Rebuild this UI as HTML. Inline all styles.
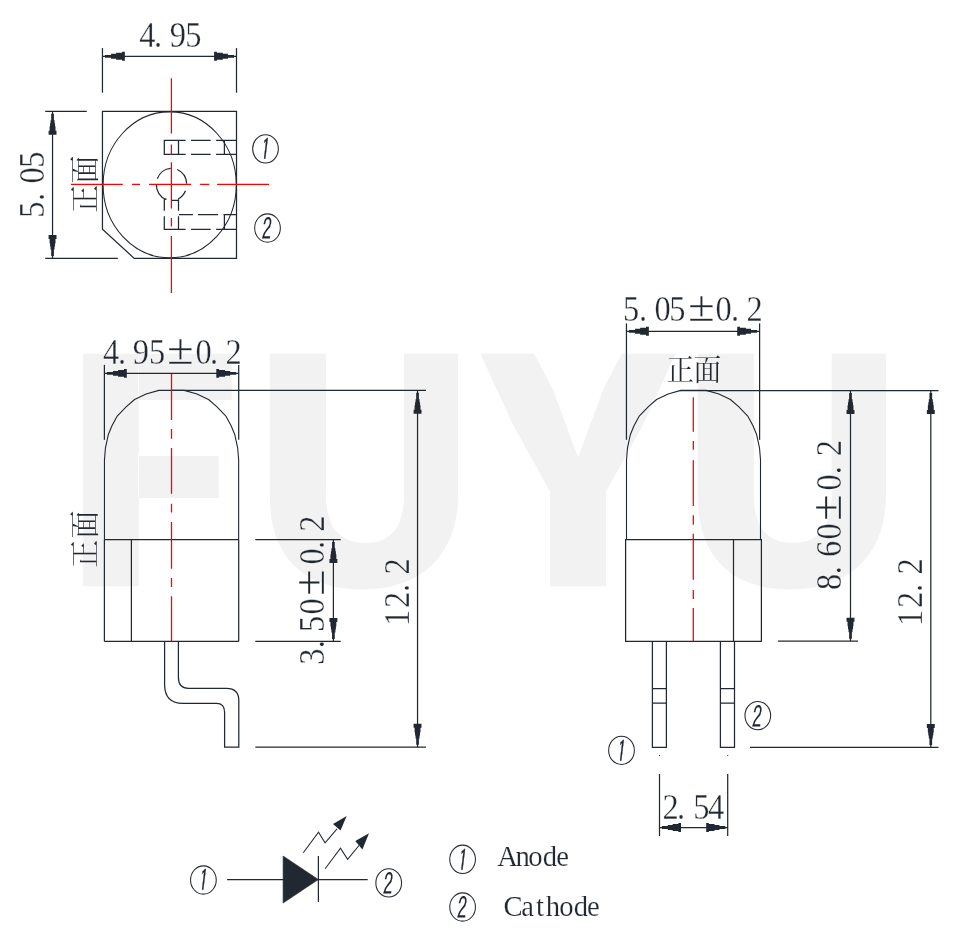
<!DOCTYPE html>
<html lang="zh">
<head>
<meta charset="utf-8">
<title>LED package outline drawing</title>
<style>
html,body{margin:0;padding:0;background:#fff;}
body{width:969px;height:944px;overflow:hidden;font-family:"Liberation Serif","Noto Serif CJK SC",serif;}
svg{display:block;will-change:transform;}
text{white-space:pre;}
.t{stroke:#fff;stroke-width:0.3px;}
.l{stroke:#fff;stroke-width:0.2px;}
.c{stroke:#fff;stroke-width:0.12px;}
</style>
</head>
<body>
<svg width="969" height="944" viewBox="0 0 969 944">
<rect width="969" height="944" fill="#ffffff"/>
<clipPath id="wmclip"><path clip-rule="evenodd" d="M0 0H138.8V944H0ZM138 350H231.6V400H138ZM138 451.5H218.6V497.7H138ZM262 0H969V944H262ZM326.3 340L326.3 500L327.5 511.3L331.7 525.1L336 531L341.3 536.1L346.5 539.3L352.3 541.6L358.5 542.6L365.15 542.8L371.8 542.6L378 541.6L383.8 539.3L389 536.1L394.3 531L398.6 525.1L402.8 511.3L404 500L404 340ZM754 340L754 500L755.2 511.3L759.4 525.1L763.7 531L769 536.1L774.2 539.3L780 541.6L786.2 542.6L792.85 542.8L799.5 542.6L805.7 541.6L811.5 539.3L816.7 536.1L822 531L826.3 525.1L830.5 511.3L831.7 500L831.7 340ZM539.8 340L616.3 340L616.3 353.8L578.05 457.7L539.8 353.8ZM464 340H480.5V353.8L549.7 505V600H464ZM692 340H675.6V353.8L606.4 505V600H692Z"/></clipPath>
<g clip-path="url(#wmclip)"><text transform="translate(0 578.49) scale(1 1.0906)" x="71.07 259.69 481.53 687.64" y="0" font-family="Liberation Sans, sans-serif" font-weight="bold" font-size="289" fill="#f2f2f2" stroke="#f2f2f2" stroke-width="14.4">FUYU</text></g>
<path d="M102.45 111.35H236.5V258.35H134.2L102.45 229.3Z" fill="none" stroke="#222831" stroke-width="1.25" />
<ellipse cx="169.7" cy="184.85" rx="66.6" ry="73" fill="none" stroke="#222831" stroke-width="1.05"/>
<line x1="102.45" y1="48.1" x2="102.45" y2="92.7" stroke="#222831" stroke-width="1.25"/>
<line x1="236.5" y1="48.1" x2="236.5" y2="92.7" stroke="#222831" stroke-width="1.25"/>
<line x1="102.45" y1="56.3" x2="236.5" y2="56.3" stroke="#222831" stroke-width="1.25"/>
<polygon points="104.95,54.9 111.05,54.9 111.05,53.85 116.15,53.85 116.15,52.85 122.05,52.85 122.05,51.85 124.85,51.85 124.85,60.75 122.05,60.75 122.05,59.75 116.15,59.75 116.15,58.75 111.05,58.75 111.05,57.7 104.95,57.7" fill="#222831"/>
<polygon points="234,54.9 227.9,54.9 227.9,53.85 222.8,53.85 222.8,52.85 216.9,52.85 216.9,51.85 214.1,51.85 214.1,60.75 216.9,60.75 216.9,59.75 222.8,59.75 222.8,58.75 227.9,58.75 227.9,57.7 234,57.7" fill="#222831"/>
<text transform="translate(0 47) scale(0.913 1)" x="152.5 168.73 186.02 202.84" y="0" font-family="Liberation Serif, serif" font-size="35.5" fill="#222831" class="t">4.95</text>
<line x1="45.2" y1="111.35" x2="86.8" y2="111.35" stroke="#222831" stroke-width="1.25"/>
<line x1="45.2" y1="258.35" x2="117.8" y2="258.35" stroke="#222831" stroke-width="1.25"/>
<line x1="52.55" y1="111.35" x2="52.55" y2="258.35" stroke="#222831" stroke-width="1.25"/>
<polygon points="51.2,113.75 51.2,120.15 50.55,120.15 50.55,123.15 50.05,123.15 50.05,126.15 49.6,126.15 49.6,130.75 48.6,130.75 48.6,134.75 56.5,134.75 56.5,130.75 55.5,130.75 55.5,126.15 55.05,126.15 55.05,123.15 54.55,123.15 54.55,120.15 53.9,120.15 53.9,113.75" fill="#222831"/>
<polygon points="51.2,255.95 51.2,249.55 50.55,249.55 50.55,246.55 50.05,246.55 50.05,243.55 49.6,243.55 49.6,238.95 48.6,238.95 48.6,234.95 56.5,234.95 56.5,238.95 55.5,238.95 55.5,243.55 55.05,243.55 55.05,246.55 54.55,246.55 54.55,249.55 53.9,249.55 53.9,255.95" fill="#222831"/>
<text transform="translate(44.1 0) rotate(-90) scale(0.913 1)" x="-238.57 -220.21 -201.1 -183.69" y="0" font-family="Liberation Serif, serif" font-size="35.5" fill="#222831" class="t">5.05</text>
<path d="M185.6 140.4H164.3V154.4H185.6M178.5 140.4V154.4M191 140.4H210.7M191 154.4H210.7M216.1 140.4H236.5M216.1 154.4H236.5M224.4 140.4V154.4" fill="none" stroke="#222831" stroke-width="1.25" />
<path d="M164.3 199.2V210.8M164.3 216.2V229.4H185.6M178.5 199.2V210.8M178.5 216.2V229.4M179 214.5H192.9M197.9 214.5H218M223.5 214.5H236.5M191 229.4H210.7M216.1 229.4H236.5M224.4 214.5V229.4" fill="none" stroke="#222831" stroke-width="1.25" />
<path d="M157.31 178.69A15.2 16.2 0 0 1 170.7 168.32" fill="none" stroke="#222831" stroke-width="1.25" />
<path d="M177.19 169.48A15.2 16.2 0 0 1 186.68 183.65" fill="none" stroke="#222831" stroke-width="1.25" />
<path d="M185.49 190.83A15.2 16.2 0 0 1 178.16 199.06" fill="none" stroke="#222831" stroke-width="1.25" />
<path d="M165.81 199.52A15.2 16.2 0 0 1 156.3 184.5" fill="none" stroke="#222831" stroke-width="1.25" />
<path d="M164.3 199.2H166.6M171.5 200.4H178.5" fill="none" stroke="#222831" stroke-width="1.25" />
<text transform="translate(95.4 0) rotate(-90) scale(1 1.06)" x="-212.74 -183.58" y="0" font-family="Liberation Serif, Noto Serif CJK SC, serif" font-size="27.8" fill="#222831" class="c">正面</text>
<ellipse cx="265.5" cy="148.85" rx="12.85" ry="14.15" fill="none" stroke="#222831" stroke-width="1.05"/>
<text transform="translate(260.28 160.08) skewX(-7) scale(0.55 1)" font-family="IPAGothic, NanumGothic, Liberation Sans, sans-serif" font-size="29.13" fill="#222831" stroke="#222831" stroke-width="0.5">1</text>
<ellipse cx="267.5" cy="228" rx="12.85" ry="14.15" fill="none" stroke="#222831" stroke-width="1.05"/>
<text transform="translate(261.06 240.12) skewX(-6) scale(0.64 1)" font-family="IPAGothic, NanumGothic, Liberation Sans, sans-serif" font-size="29.89" fill="#222831" stroke="#222831" stroke-width="0.15">2</text>
<path d="M171.4 78.3V133.6M171.4 144.4V155M171.4 162.2V208.6M171.4 218.1V226.4M171.4 235.9V292.9" fill="none" stroke="#ff0000" stroke-width="1.3" />
<path d="M71 184.4H122.8M132.1 184.4H140M149.1 184.4H191M200.1 184.4H209.2M217.1 184.4H269" fill="none" stroke="#ff0000" stroke-width="1.3" />
<line x1="104.4" y1="364.9" x2="104.4" y2="439.8" stroke="#222831" stroke-width="1.25"/>
<line x1="238.7" y1="364.9" x2="238.7" y2="439.8" stroke="#222831" stroke-width="1.25"/>
<line x1="104.4" y1="539.5" x2="104.4" y2="641.4" stroke="#222831" stroke-width="1.25"/>
<line x1="238.7" y1="539.5" x2="238.7" y2="641.4" stroke="#222831" stroke-width="1.25"/>
<line x1="104.4" y1="373.4" x2="238.7" y2="373.4" stroke="#222831" stroke-width="1.25"/>
<polygon points="106.9,372 113,372 113,370.95 118.1,370.95 118.1,369.95 124,369.95 124,368.95 126.8,368.95 126.8,377.85 124,377.85 124,376.85 118.1,376.85 118.1,375.85 113,375.85 113,374.8 106.9,374.8" fill="#222831"/>
<polygon points="236.2,372 230.1,372 230.1,370.95 225,370.95 225,369.95 219.1,369.95 219.1,368.95 216.3,368.95 216.3,377.85 219.1,377.85 219.1,376.85 225,376.85 225,375.85 230.1,375.85 230.1,374.8 236.2,374.8" fill="#222831"/>
<text transform="translate(0 363.9) scale(0.913 1)" x="112.85 129.19 145.5 163.08 182.88 214.02 229.95 247.07" y="0" font-family="Liberation Serif, serif" font-size="35.5" fill="#222831" class="t">4.95<tspan font-size="43.6" textLength="29.45" lengthAdjust="spacingAndGlyphs">±</tspan>0.2</text>
<path d="M104.45 539.5L104.45 460L105.45 447.8L108.26 434.8L111.96 425.8L116.97 416.4L126.38 406.7L134.59 399.5L146.11 394L158.83 390.4L184.27 390.4L196.99 394L208.51 399.5L216.72 406.7L226.13 416.4L231.14 425.8L234.84 434.8L237.65 447.8L238.65 460L238.65 539.5" fill="none" stroke="#222831" stroke-width="1.1" stroke-linejoin="round"/>
<line x1="104.4" y1="539.5" x2="238.7" y2="539.5" stroke="#222831" stroke-width="1.25"/>
<line x1="104.4" y1="641.4" x2="238.7" y2="641.4" stroke="#222831" stroke-width="1.25"/>
<line x1="131.4" y1="539.5" x2="131.4" y2="641.4" stroke="#222831" stroke-width="1.25"/>
<path d="M164.6 641.4V684.5Q164.6 703.4 183 703.4H216.5Q224.6 703.4 224.6 712.5V747.2H238.8V700.5Q238.8 688.3 226.5 688.3H188.5Q178.4 688.3 178.4 677.5V641.4" fill="none" stroke="#222831" stroke-width="1.25" />
<line x1="171" y1="390.4" x2="426" y2="390.4" stroke="#222831" stroke-width="1.25"/>
<line x1="255.3" y1="539.5" x2="340.7" y2="539.5" stroke="#222831" stroke-width="1.25"/>
<line x1="255.3" y1="641.4" x2="340.7" y2="641.4" stroke="#222831" stroke-width="1.25"/>
<line x1="255.3" y1="747.2" x2="426" y2="747.2" stroke="#222831" stroke-width="1.25"/>
<line x1="333.4" y1="539.5" x2="333.4" y2="641.4" stroke="#222831" stroke-width="1.25"/>
<polygon points="332.05,541.9 332.05,548.3 331.4,548.3 331.4,551.3 330.9,551.3 330.9,554.3 330.45,554.3 330.45,558.9 329.45,558.9 329.45,562.9 337.35,562.9 337.35,558.9 336.35,558.9 336.35,554.3 335.9,554.3 335.9,551.3 335.4,551.3 335.4,548.3 334.75,548.3 334.75,541.9" fill="#222831"/>
<polygon points="332.05,639 332.05,632.6 331.4,632.6 331.4,629.6 330.9,629.6 330.9,626.6 330.45,626.6 330.45,622 329.45,622 329.45,618 337.35,618 337.35,622 336.35,622 336.35,626.6 335.9,626.6 335.9,629.6 335.4,629.6 335.4,632.6 334.75,632.6 334.75,639" fill="#222831"/>
<line x1="417.55" y1="390.4" x2="417.55" y2="747.2" stroke="#222831" stroke-width="1.25"/>
<polygon points="416.2,392.8 416.2,399.2 415.55,399.2 415.55,402.2 415.05,402.2 415.05,405.2 414.6,405.2 414.6,409.8 413.6,409.8 413.6,413.8 421.5,413.8 421.5,409.8 420.5,409.8 420.5,405.2 420.05,405.2 420.05,402.2 419.55,402.2 419.55,399.2 418.9,399.2 418.9,392.8" fill="#222831"/>
<polygon points="416.2,744.8 416.2,738.4 415.55,738.4 415.55,735.4 415.05,735.4 415.05,732.4 414.6,732.4 414.6,727.8 413.6,727.8 413.6,723.8 421.5,723.8 421.5,727.8 420.5,727.8 420.5,732.4 420.05,732.4 420.05,735.4 419.55,735.4 419.55,738.4 418.9,738.4 418.9,744.8" fill="#222831"/>
<text transform="translate(324.2 0) rotate(-90) scale(0.913 1)" x="-728.2 -710.02 -692.13 -673.17 -652.83 -618.18 -601.37 -582.33" y="0" font-family="Liberation Serif, serif" font-size="35.5" fill="#222831" class="t">3.50<tspan font-size="43.6" textLength="29.45" lengthAdjust="spacingAndGlyphs">±</tspan>0.2</text>
<text transform="translate(409.2 0) rotate(-90) scale(0.913 1)" x="-685.6 -666.07 -648.36 -629.27" y="0" font-family="Liberation Serif, serif" font-size="35.5" fill="#222831" class="t">12.2</text>
<text transform="translate(94.5 0) rotate(-90) scale(1 1.06)" x="-567.74 -538.58" y="0" font-family="Liberation Serif, Noto Serif CJK SC, serif" font-size="27.8" fill="#222831" class="c">正面</text>
<path d="M171.5 373.9V419.9M171.5 429.1V438.7M171.5 448.05V493.7M171.5 503.7V512.4M171.5 522.05V568.8M171.5 578V586.9M171.5 596.2V641.4" fill="none" stroke="#ff0000" stroke-width="1.3" />
<line x1="626.45" y1="323.4" x2="626.45" y2="439.8" stroke="#222831" stroke-width="1.25"/>
<line x1="759.6" y1="323.4" x2="759.6" y2="439.8" stroke="#222831" stroke-width="1.25"/>
<line x1="626.45" y1="331.3" x2="759.6" y2="331.3" stroke="#222831" stroke-width="1.25"/>
<polygon points="628.95,329.9 635.05,329.9 635.05,328.85 640.15,328.85 640.15,327.85 646.05,327.85 646.05,326.85 648.85,326.85 648.85,335.75 646.05,335.75 646.05,334.75 640.15,334.75 640.15,333.75 635.05,333.75 635.05,332.7 628.95,332.7" fill="#222831"/>
<polygon points="757.1,329.9 751,329.9 751,328.85 745.9,328.85 745.9,327.85 740,327.85 740,326.85 737.2,326.85 737.2,335.75 740,335.75 740,334.75 745.9,334.75 745.9,333.75 751,333.75 751,332.7 757.1,332.7" fill="#222831"/>
<text transform="translate(0 321.2) scale(0.913 1)" x="682.46 699.94 716.75 733.07 753.52 783.79 800.6 817.61" y="0" font-family="Liberation Serif, serif" font-size="35.5" fill="#222831" class="t">5.05<tspan font-size="43.6" textLength="29.45" lengthAdjust="spacingAndGlyphs">±</tspan>0.2</text>
<text transform="translate(0 380.4) scale(1 1.06)" x="666.46 693.52" y="0" font-family="Liberation Serif, Noto Serif CJK SC, serif" font-size="27.8" fill="#222831" class="c">正面</text>
<path d="M626.5 539.5L626.5 460L627.5 447.8L630.3 434.8L634 425.8L639 416.4L648.4 406.7L656.6 399.5L668.1 394L680.8 390.4L706.2 390.4L718.9 394L730.4 399.5L738.6 406.7L748 416.4L753 425.8L756.7 434.8L759.5 447.8L760.5 460L760.5 539.5" fill="none" stroke="#222831" stroke-width="1.1" stroke-linejoin="round"/>
<path d="M625.6 539.5H761.4V641.4H625.6Z" fill="none" stroke="#222831" stroke-width="1.25" />
<line x1="733.5" y1="539.5" x2="733.5" y2="641.4" stroke="#222831" stroke-width="1.25"/>
<path d="M652.4 641.4V747.4H666.4V641.4M652.4 688.5H666.4M652.4 703.1H666.4" fill="none" stroke="#222831" stroke-width="1.25" />
<path d="M720.4 641.4V747.4H734.5V641.4M720.4 688.5H734.5M720.4 703.1H734.5" fill="none" stroke="#222831" stroke-width="1.25" />
<rect x="659" y="755" width="1" height="1" fill="#222831"/><rect x="727.2" y="755" width="1" height="1" fill="#222831"/>
<line x1="659.5" y1="773.9" x2="659.5" y2="836" stroke="#222831" stroke-width="1.25"/>
<line x1="727.7" y1="773.9" x2="727.7" y2="836" stroke="#222831" stroke-width="1.25"/>
<line x1="659.5" y1="827.5" x2="727.7" y2="827.5" stroke="#222831" stroke-width="1.25"/>
<polygon points="661.9,826.1 667.76,826.1 667.76,825.05 672.65,825.05 672.65,824.05 678.32,824.05 678.32,823.05 681,823.05 681,831.95 678.32,831.95 678.32,830.95 672.65,830.95 672.65,829.95 667.76,829.95 667.76,828.9 661.9,828.9" fill="#222831"/>
<polygon points="725.3,826.1 719.44,826.1 719.44,825.05 714.55,825.05 714.55,824.05 708.88,824.05 708.88,823.05 706.2,823.05 706.2,831.95 708.88,831.95 708.88,830.95 714.55,830.95 714.55,829.95 719.44,829.95 719.44,828.9 725.3,828.9" fill="#222831"/>
<text transform="translate(0 818.9) scale(0.913 1)" x="725.72 741.46 759.24 775.5" y="0" font-family="Liberation Serif, serif" font-size="35.5" fill="#222831" class="t">2.54</text>
<line x1="680" y1="390.5" x2="938.5" y2="390.5" stroke="#222831" stroke-width="1.25"/>
<line x1="777.9" y1="641.1" x2="858" y2="641.1" stroke="#222831" stroke-width="1.25"/>
<line x1="750" y1="747.4" x2="938.5" y2="747.4" stroke="#222831" stroke-width="1.25"/>
<line x1="850.5" y1="390.4" x2="850.5" y2="641.1" stroke="#222831" stroke-width="1.25"/>
<polygon points="849.15,392.9 849.15,399.3 848.5,399.3 848.5,402.3 848,402.3 848,405.3 847.55,405.3 847.55,409.9 846.55,409.9 846.55,413.9 854.45,413.9 854.45,409.9 853.45,409.9 853.45,405.3 853,405.3 853,402.3 852.5,402.3 852.5,399.3 851.85,399.3 851.85,392.9" fill="#222831"/>
<polygon points="849.15,638.7 849.15,632.3 848.5,632.3 848.5,629.3 848,629.3 848,626.3 847.55,626.3 847.55,621.7 846.55,621.7 846.55,617.7 854.45,617.7 854.45,621.7 853.45,621.7 853.45,626.3 853,626.3 853,629.3 852.5,629.3 852.5,632.3 851.85,632.3 851.85,638.7" fill="#222831"/>
<line x1="930.8" y1="390.4" x2="930.8" y2="747.4" stroke="#222831" stroke-width="1.25"/>
<polygon points="929.45,392.9 929.45,399.3 928.8,399.3 928.8,402.3 928.3,402.3 928.3,405.3 927.85,405.3 927.85,409.9 926.85,409.9 926.85,413.9 934.75,413.9 934.75,409.9 933.75,409.9 933.75,405.3 933.3,405.3 933.3,402.3 932.8,402.3 932.8,399.3 932.15,399.3 932.15,392.9" fill="#222831"/>
<polygon points="929.45,745 929.45,738.6 928.8,738.6 928.8,735.6 928.3,735.6 928.3,732.6 927.85,732.6 927.85,728 926.85,728 926.85,724 934.75,724 934.75,728 933.75,728 933.75,732.6 933.3,732.6 933.3,735.6 932.8,735.6 932.8,738.6 932.15,738.6 932.15,745" fill="#222831"/>
<text transform="translate(841.3 0) rotate(-90) scale(0.913 1)" x="-646.33 -629.08 -610.09 -591.02 -570.68 -537.24 -519.33 -499.8" y="0" font-family="Liberation Serif, serif" font-size="35.5" fill="#222831" class="t">8.60<tspan font-size="43.6" textLength="29.45" lengthAdjust="spacingAndGlyphs">±</tspan>0.2</text>
<text transform="translate(921.9 0) rotate(-90) scale(0.913 1)" x="-685.6 -666.07 -648.36 -629.27" y="0" font-family="Liberation Serif, serif" font-size="35.5" fill="#222831" class="t">12.2</text>
<ellipse cx="621.5" cy="750.4" rx="12.85" ry="14.15" fill="none" stroke="#222831" stroke-width="1.05"/>
<text transform="translate(616.28 761.63) skewX(-7) scale(0.55 1)" font-family="IPAGothic, NanumGothic, Liberation Sans, sans-serif" font-size="29.13" fill="#222831" stroke="#222831" stroke-width="0.5">1</text>
<ellipse cx="757.8" cy="715.6" rx="12.85" ry="14.15" fill="none" stroke="#222831" stroke-width="1.05"/>
<text transform="translate(751.36 727.72) skewX(-6) scale(0.64 1)" font-family="IPAGothic, NanumGothic, Liberation Sans, sans-serif" font-size="29.89" fill="#222831" stroke="#222831" stroke-width="0.15">2</text>
<path d="M693.3 397.2V431.7M693.3 441.1V449.8M693.3 460.2V505.9M693.3 515.2V524.8M693.3 533.7V579.7M693.3 590.1V599M693.3 607.9V641.5" fill="none" stroke="#ff0000" stroke-width="1.3" />
<ellipse cx="203.4" cy="880" rx="12.85" ry="14.15" fill="none" stroke="#222831" stroke-width="1.05"/>
<text transform="translate(198.18 891.23) skewX(-7) scale(0.55 1)" font-family="IPAGothic, NanumGothic, Liberation Sans, sans-serif" font-size="29.13" fill="#222831" stroke="#222831" stroke-width="0.5">1</text>
<ellipse cx="388.7" cy="882.9" rx="12.85" ry="14.15" fill="none" stroke="#222831" stroke-width="1.05"/>
<text transform="translate(382.26 895.02) skewX(-6) scale(0.64 1)" font-family="IPAGothic, NanumGothic, Liberation Sans, sans-serif" font-size="29.89" fill="#222831" stroke="#222831" stroke-width="0.15">2</text>
<line x1="227.1" y1="879.5" x2="367.7" y2="879.5" stroke="#222831" stroke-width="1.25"/>
<polygon points="283.1,856 283.1,903.1 318.3,879.5" fill="#222831" stroke="#222831" stroke-width="0.6"/>
<line x1="318.4" y1="856" x2="318.4" y2="902" stroke="#222831" stroke-width="1.25"/>
<path d="M303.3 852.7L318.5 832.1L325.1 842.8L337 828.8" fill="none" stroke="#222831" stroke-width="1.05" />
<polygon points="346.7,815.9 333,823.9 340.5,830.5" fill="#222831"/>
<path d="M325.1 868.8L340.5 848.1L347.6 859.4L359 845.5" fill="none" stroke="#222831" stroke-width="1.05" />
<polygon points="369,833.3 355.3,840.9 362.4,849.4" fill="#222831"/>
<ellipse cx="462.6" cy="859.3" rx="12.85" ry="14.15" fill="none" stroke="#222831" stroke-width="1.05"/>
<text transform="translate(457.38 870.53) skewX(-7) scale(0.55 1)" font-family="IPAGothic, NanumGothic, Liberation Sans, sans-serif" font-size="29.13" fill="#222831" stroke="#222831" stroke-width="0.5">1</text>
<ellipse cx="462.6" cy="907" rx="12.85" ry="14.15" fill="none" stroke="#222831" stroke-width="1.05"/>
<text transform="translate(456.16 919.12) skewX(-6) scale(0.64 1)" font-family="IPAGothic, NanumGothic, Liberation Sans, sans-serif" font-size="29.89" fill="#222831" stroke="#222831" stroke-width="0.15">2</text>
<text transform="translate(0 865.9) scale(0.95 1)" x="523.37 542.75 556.13 571.46 585.55" y="0" font-family="Liberation Serif, serif" font-size="30.2" fill="#222831" class="l">Anode</text>
<text transform="translate(0 916.1) scale(0.95 1)" x="529.93 548.66 564.17 574.61 588.82 603.93 617.97" y="0" font-family="Liberation Serif, serif" font-size="30.2" fill="#222831" class="l">Cathode</text>
</svg>
</body>
</html>
